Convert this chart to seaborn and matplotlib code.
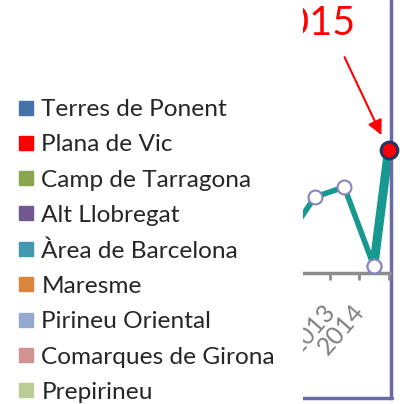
import matplotlib
matplotlib.use("Agg")
import matplotlib.pyplot as plt
import matplotlib.transforms as mtransforms
import seaborn as sns
import pandas as pd
from matplotlib.lines import Line2D
from matplotlib.patches import Rectangle

# ---- data ----
legend_labels = ["Terres de Ponent", "Plana de Vic", "Camp de Tarragona", "Alt Llobregat",
                 "Àrea de Barcelona", "Maresme", "Pirineu Oriental", "Comarques de Girona",
                 "Prepirineu"]
legend_colors = ["#4572A7", "#FF0000", "#89A54E", "#71588F", "#4198AF",
                 "#DB843D", "#93A9CF", "#D19392", "#B9CD96"]
years = [2011, 2012, 2013, 2014]
values = [11.7, 27.8, 31.5, 2.6]
highlight_year = 2015
highlight_value = 45.0
tick_years = [2013, 2014, 2015]
tick_labels = ["2013", "2014", ""]
annot_text = "2015"

sns.set_theme(style="white")
plt.rcParams["font.family"] = ["Lato", "DejaVu Sans"]

W, H = 405, 404
fig = plt.figure(figsize=(W / 100, H / 100), dpi=100)
ax = fig.add_axes([303 / W, (H - 273) / H, 87 / W, 273 / H])
ax.set_facecolor("none")

teal = "#17998f"
df = pd.DataFrame({"x": [y + 0.5 for y in years], "v": values})
sns.lineplot(data=df, x="x", y="v", ax=ax, color=teal, lw=4, zorder=3,
             marker="o", markersize=10, markerfacecolor="white",
             markeredgecolor="#8486bd", markeredgewidth=1.5)
df2 = pd.DataFrame({"x": [years[-1] + 0.5, highlight_year], "v": [values[-1], highlight_value]})
sns.lineplot(data=df2, x="x", y="v", ax=ax, color=teal, lw=6.5, zorder=2)
ax.plot([years[-1] + 0.5], [values[-1]], "o", ms=10, mfc="white", mec="#8486bd", mew=1.5, zorder=4)
ax.plot([highlight_year], [highlight_value], "o", ms=12, mfc="#ff0000", mec="#1f3864",
        mew=2.2, zorder=5, clip_on=False)

ax.set_xlim(2015.05 - 87 / 29.5, 2015.05)
ax.set_ylim(0, 100)
ax.set_xlabel("")
ax.set_ylabel("")
for s in ["top", "left", "right"]:
    ax.spines[s].set_visible(False)
ax.spines["bottom"].set_color("#8c8c8c")
ax.spines["bottom"].set_linewidth(2.5)
ax.set_yticks([])
ax.set_xticks(tick_years)
ax.set_xticklabels(tick_labels, rotation=49, ha="right", rotation_mode="anchor",
                   color="#808080", fontsize=18)
ax.tick_params(axis="x", direction="out", length=5, width=2, color="#8c8c8c",
               bottom=True, pad=14)
shift = mtransforms.ScaledTranslation(-7 / 100, 0, fig.dpi_scale_trans)
for lbl in ax.get_xticklabels():
    lbl.set_transform(lbl.get_transform() + shift)

# annotation
ax.annotate("", xy=(highlight_year, highlight_value), xycoords="data",
            xytext=(-44, 93), textcoords="offset pixels",
            arrowprops=dict(arrowstyle="-|>", color="#ff0000", lw=1.5,
                            mutation_scale=22, shrinkA=0, shrinkB=12),
            annotation_clip=False)
ax.annotate(annot_text, xy=(highlight_year, highlight_value), xycoords="data",
            xytext=(-33, 115), textcoords="offset pixels", ha="right", va="baseline",
            color="#ff0000", fontsize=28.5, annotation_clip=False)

# purple frame
frame = "#6a6ba6"
fig.add_artist(Line2D([390.5 / W, 390.5 / W], [(H - 398) / H, 1.0], color=frame, lw=2.5,
                      zorder=-1, transform=fig.transFigure))
fig.add_artist(Line2D([300 / W, 391.5 / W], [(H - 398) / H, (H - 398) / H], color=frame,
                      lw=2.5, zorder=-1, transform=fig.transFigure))

# white cover (legend area)
fig.add_artist(Rectangle((0, 0), 303 / W, 1, transform=fig.transFigure,
                         facecolor="white", edgecolor="none", zorder=1))

handles = [Line2D([], [], marker="s", ls="", markersize=10, color=c, mec=c)
           for c in legend_colors]
fig.legend(handles, legend_labels, loc="upper left", bbox_to_anchor=(17 / W, (H - 99) / H),
           frameon=False, fontsize=17.6, handlelength=0.7, handletextpad=0.3,
           labelspacing=0.58, borderpad=0, borderaxespad=0)

fig.savefig("out.png", dpi=100)
